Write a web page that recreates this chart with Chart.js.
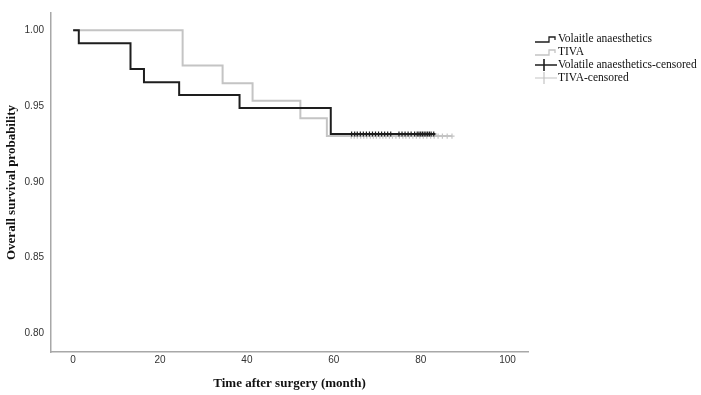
<!DOCTYPE html>
<html>
<head>
<meta charset="utf-8">
<script src="https://cdn.jsdelivr.net/npm/chart.js@4.4.0/dist/chart.umd.min.js"></script>
<style>
  body { margin: 0; background: #fff; }
  #wrap { width: 701px; height: 395px; position: relative; }
</style>
</head>
<body>
<div id="wrap"><canvas id="myChart"></canvas></div>
<script>
// Kaplan-Meier steps (time in months, survival)
const volTime = [0, 1.3, 13.2, 16.3, 24.4, 38.3, 59.3, 83.3];
const volSurv = [1.0, 0.9915, 0.9744, 0.9658, 0.9573, 0.9487, 0.9316, 0.9316];
const tivaTime = [0, 25.2, 34.4, 41.3, 52.3, 58.4, 87.2];
const tivaSurv = [1.0, 0.9767, 0.9651, 0.9535, 0.9419, 0.9302, 0.9302];

// censored observations
const volCensTime = [64.1, 64.8, 65.4, 66.1, 66.8, 67.5, 68.2, 68.9, 69.6, 70.3, 71.0, 71.7, 72.4, 73.1,
  75.0, 75.7, 76.4, 77.1, 77.8, 78.6, 79.2, 79.6, 80.0, 80.4, 80.8, 81.2, 81.6, 82.0, 82.4, 83.0];
const volCensSurv = 0.9316;
const tivaCensTime = [64.0, 64.7, 65.4, 66.2, 66.9, 67.6, 68.4, 69.1, 69.8, 70.6, 71.3, 72.0, 72.8, 73.5,
  74.3, 75.1, 75.9, 76.6, 77.4, 78.2, 79.0, 79.8, 80.6, 81.4, 82.3, 83.1, 84.0, 85.0, 86.1, 87.2];
const tivaCensSurv = 0.9302;

const xTicks = [0, 20, 40, 60, 80, 100];
const yTicks = [0.80, 0.85, 0.90, 0.95, 1.00];
const legendLabels = ['Volaitle anaesthetics', 'TIVA', 'Volatile anaesthetics-censored', 'TIVA-censored'];

const BLACK = '#1e1e1e';
const GREY = '#c4c4c4';

function pts(xs, ys) {
    return xs.map((x, i) => ({ x: x, y: Array.isArray(ys) ? ys[i] : ys }));
}

// legend drawn by hand so it sits where SPSS puts it
const spssLegend = {
    id: 'spssLegend',
    afterDraw(chart) {
        const ctx = chart.ctx;
        const x0 = 535, textX = 558, rowY = [39, 52, 65, 78];
        const cols = [BLACK, GREY, BLACK, GREY];
        ctx.save();
        legendLabels.forEach((lab, i) => {
            const y = rowY[i];
            ctx.strokeStyle = cols[i];
            ctx.lineWidth = 1.3;
            ctx.beginPath();
            if (i < 2) {
                ctx.moveTo(x0, y + 3);
                ctx.lineTo(x0 + 14, y + 3);
                ctx.lineTo(x0 + 14, y - 2);
                ctx.lineTo(x0 + 20, y - 2);
                ctx.lineTo(x0 + 20, y + 1);
            } else {
                ctx.lineWidth = i === 2 ? 1.6 : 1.2;
                ctx.moveTo(x0, y);
                ctx.lineTo(x0 + 22, y);
                ctx.moveTo(x0 + 9, y - 6);
                ctx.lineTo(x0 + 9, y + 6);
            }
            ctx.stroke();
            ctx.fillStyle = '#111';
            ctx.font = '11.5px "Liberation Serif"';
            ctx.textBaseline = 'middle';
            ctx.textAlign = 'left';
            ctx.fillText(lab, textX, y);
        });
        ctx.restore();
    }
};

const ctx = document.getElementById('myChart').getContext('2d');
new Chart(ctx, {
    type: 'scatter',
    data: {
        datasets: [
            {
                label: 'Volatile anaesthetics-censored',
                data: pts(volCensTime, volCensSurv),
                showLine: false,
                pointStyle: 'cross',
                pointRadius: 2.6,
                borderColor: BLACK,
                borderWidth: 1.2
            },
            {
                label: 'Volaitle anaesthetics',
                data: pts(volTime, volSurv),
                showLine: true,
                stepped: 'before',
                borderColor: BLACK,
                borderWidth: 2,
                pointRadius: 0
            },
            {
                label: 'TIVA-censored',
                data: pts(tivaCensTime, tivaCensSurv),
                showLine: false,
                pointStyle: 'cross',
                pointRadius: 2.6,
                borderColor: GREY,
                borderWidth: 1.2
            },
            {
                label: 'TIVA',
                data: pts(tivaTime, tivaSurv),
                showLine: true,
                stepped: 'before',
                borderColor: GREY,
                borderWidth: 2,
                pointRadius: 0
            }
        ]
    },
    options: {
        responsive: true,
        maintainAspectRatio: false,
        animation: false,
        layout: { padding: { left: 0, top: 5, right: 173, bottom: 0 } },
        plugins: {
            legend: { display: false },
            tooltip: { enabled: false }
        },
        scales: {
            x: {
                type: 'linear',
                min: -5.1,
                max: 104.7,
                grid: { display: false, drawTicks: false },
                border: { display: true, color: '#a8a8a8', width: 1.5 },
                afterBuildTicks: (s) => { s.ticks = xTicks.map(v => ({ value: v })); },
                afterFit: (s) => { s.height = 43; },
                ticks: {
                    padding: 2,
                    color: '#333',
                    font: { family: '"Liberation Sans"', size: 10 }
                },
                title: {
                    display: true,
                    text: 'Time after surgery (month)',
                    color: '#111',
                    font: { family: '"Liberation Serif"', size: 13, weight: 'bold' },
                    padding: { top: 0, bottom: 4 }
                }
            },
            y: {
                type: 'linear',
                min: 0.7878,
                max: 1.0114,
                grid: { display: false, drawTicks: false },
                border: { display: true, color: '#a8a8a8', width: 1.5 },
                afterBuildTicks: (s) => { s.ticks = yTicks.map(v => ({ value: v })); },
                afterFit: (s) => { s.width = 51; },
                ticks: {
                    padding: 7,
                    color: '#333',
                    font: { family: '"Liberation Sans"', size: 10 },
                    callback: (v) => v.toFixed(2)
                },
                title: {
                    display: true,
                    text: 'Overall survival probability',
                    color: '#111',
                    font: { family: '"Liberation Serif"', size: 13, weight: 'bold' },
                    padding: { top: 4, bottom: 0 }
                }
            }
        }
    },
    plugins: [spssLegend]
});
</script>
</body>
</html>
